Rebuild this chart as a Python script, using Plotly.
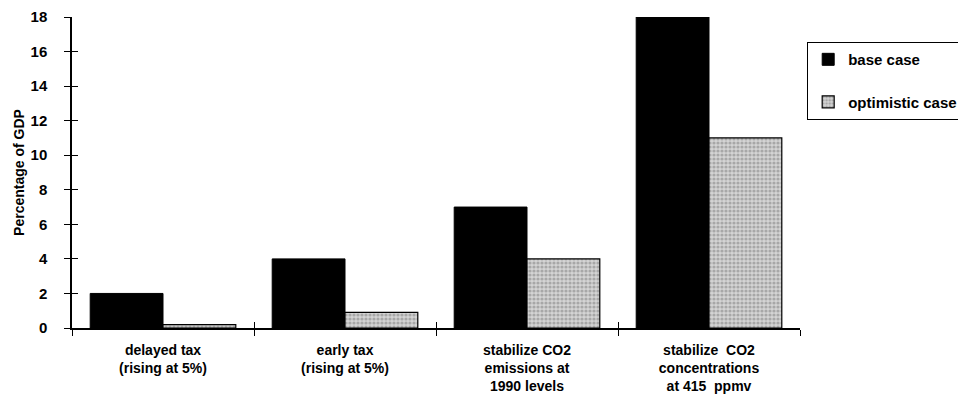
import plotly.graph_objects as go

categories = [
    "delayed tax<br>(rising at 5%)",
    "early tax<br>(rising at 5%)",
    "stabilize CO2<br>emissions at<br>1990 levels",
    "stabilize  CO2<br>concentrations<br>at 415  ppmv",
]
base_case = [2.0, 4.0, 7.0, 18.0]
optimistic_case = [0.2, 0.9, 4.0, 11.0]
y_ticks = [0, 2, 4, 6, 8, 10, 12, 14, 16, 18]

FONT = dict(family="Liberation Sans, Arial, sans-serif", size=15, color="black", weight="bold")
XFONT = dict(family="Liberation Sans, Arial, sans-serif", size=14, color="black", weight="bold")

fig = go.Figure()
fig.add_trace(go.Bar(
    x=categories, y=base_case, name="base case",
    marker=dict(color="black", line=dict(color="black", width=1)),
    legendgroup="a",
))
fig.add_trace(go.Bar(
    x=categories, y=optimistic_case, name="optimistic case",
    marker=dict(color="#cfcfcf", line=dict(color="black", width=1.2),
                pattern=dict(shape=".", fgcolor="#7a7a7a", bgcolor="#d4d4d4",
                             size=4, solidity=0.5)),
    legendgroup="b",
))
# invisible helper trace for the inner half of the crossing ticks
fig.add_trace(go.Scatter(
    x=categories, y=base_case, xaxis="x2", yaxis="y2",
    mode="markers", marker=dict(opacity=0), showlegend=False, hoverinfo="skip",
))

fig.update_layout(
    width=966, height=410,
    margin=dict(l=64, r=174, t=9, b=90, autoexpand=False),
    paper_bgcolor="white", plot_bgcolor="white",
    barmode="group", bargap=0.2, bargroupgap=0.0,
    font=FONT,
    showlegend=True,
    legend=dict(
        x=1.0096, y=0.92, xanchor="left", yanchor="top",
        bordercolor="black", borderwidth=1.2, bgcolor="white",
        font=FONT, traceorder="grouped", tracegroupgap=20,
        itemwidth=30,
    ),
    xaxis=dict(
        type="category", range=[-0.5, 3.5], automargin=False,
        showline=True, linecolor="black", linewidth=1.5,
        ticks="outside", ticklen=6, tickwidth=1.2, tickcolor="black",
        tickson="boundaries", showgrid=False, zeroline=False,
        tickfont=XFONT, ticklabelstandoff=8, ticklabeloverflow="allow",
    ),
    xaxis2=dict(
        type="category", range=[-0.5, 3.5], overlaying="x", anchor="y2",
        showline=False, ticks="inside", ticklen=6, tickwidth=1.2, tickcolor="black",
        tickson="boundaries", showticklabels=False, showgrid=False, zeroline=False,
        side="bottom", automargin=False,
    ),
    yaxis=dict(
        range=[0, 18], tickvals=y_ticks, ticktext=[str(v) for v in y_ticks],
        automargin=False,
        showline=True, linecolor="black", linewidth=1.5,
        ticks="outside", ticklen=6, tickwidth=1.2, tickcolor="black",
        showgrid=False, zeroline=False, tickfont=FONT, ticklabelstandoff=14,
        ticklabeloverflow="allow",
        title=dict(text="Percentage of GDP", font=dict(family=FONT["family"], size=14, color="black", weight="bold"), standoff=3),
    ),
    yaxis2=dict(
        range=[0, 18], tickvals=y_ticks, overlaying="y", anchor="x2", side="left",
        showline=False, ticks="inside", ticklen=6, tickwidth=1.2, tickcolor="black",
        showticklabels=False, showgrid=False, zeroline=False, automargin=False,
    ),
)

fig.write_html("out.html")
